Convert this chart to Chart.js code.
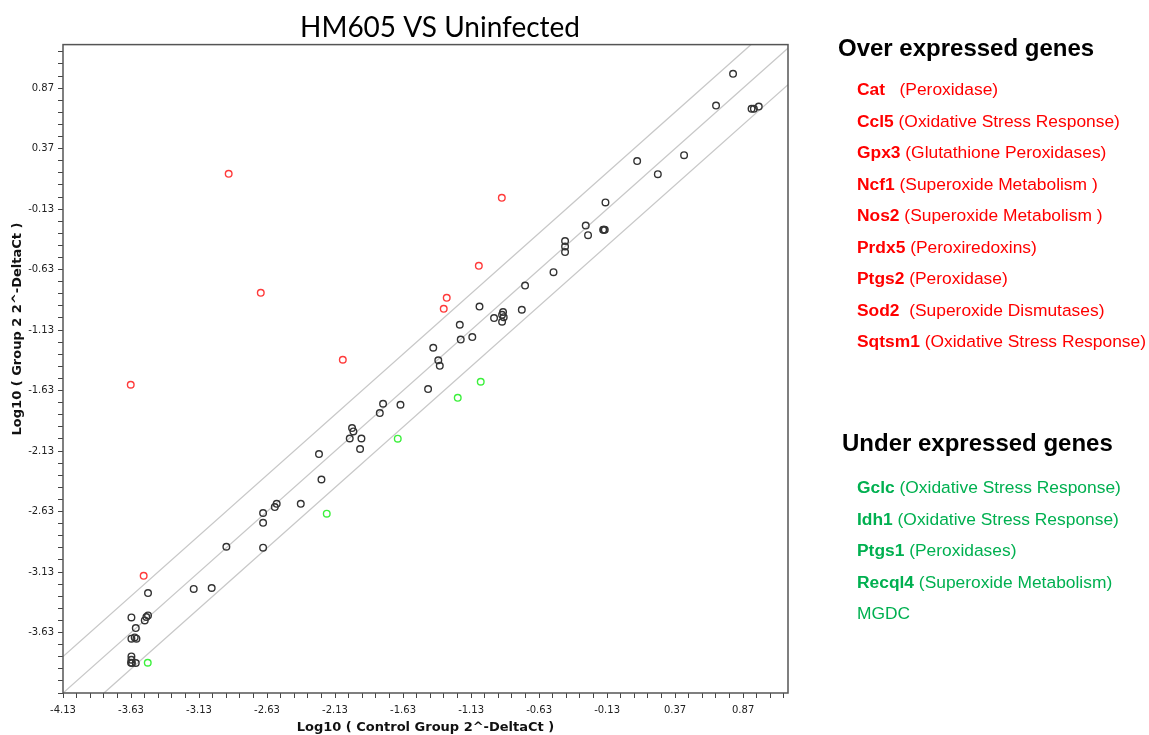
<!DOCTYPE html>
<html>
<head>
<meta charset="utf-8">
<title>HM605 VS Uninfected</title>
<script src="https://cdn.jsdelivr.net/npm/chart.js@4.4.1/dist/chart.umd.min.js"></script>
<style>
  html, body { margin: 0; padding: 0; background: #fff; }
  #wrap { position: relative; width: 1149px; height: 735px; overflow: hidden; }
  #chartBox { position: absolute; left: 0; top: 0; width: 880px; height: 735px; }
  .legend { position: absolute; font-family: "Liberation Sans", Arial, sans-serif; white-space: pre; }
  .head { font-size: 24px; font-weight: bold; line-height: 28px; color: #000; }
  .items { font-size: 17.4px; line-height: 31.5px; }
  .over { color: #ff0000; }
  .under { color: #00b050; }
</style>
</head>
<body>
<div id="wrap">
  <div id="chartBox"><canvas id="scatterChart"></canvas></div>
  <div class="legend head" style="left:838px; top:34px;">Over expressed genes</div>
  <div id="overList" class="legend items over" style="left:857px; top:74px;"></div>
  <div class="legend head" style="left:842px; top:429px;">Under expressed genes</div>
  <div id="underList" class="legend items under" style="left:857px; top:472px;"></div>
</div>
<script>
// tick labels; both axes start at -4.13 but the y axis leaves that label off
const xTickLabels = ["-4.13", "-3.63", "-3.13", "-2.63", "-2.13", "-1.63", "-1.13", "-0.63", "-0.13", "0.37", "0.87"];
const yTickLabels = ["-3.63", "-3.13", "-2.63", "-2.13", "-1.63", "-1.13", "-0.63", "-0.13", "0.37", "0.87"];

// genes with no change
const baseX = [-3.505, -3.169, -3.037, -3.627, -3.517, -3.505, -3.529, -3.595, -3.627, -3.603, -3.590,
  -3.627, -3.627, -3.623, -3.595, -3.630, -2.929, -2.659, -2.659, -2.659, -2.573, -2.559, -2.382,
  -2.230, -2.248, -2.022, -2.005, -1.995, -1.936, -1.946, -1.801, -1.777, -1.649, -1.446, -1.408,
  -1.371, -1.360, -1.213, -1.206, -1.121, -1.068, -0.961, -0.895, -0.902, -0.890, -0.902, -0.757,
  -0.733, -0.524, -0.439, -0.439, -0.439, -0.287, -0.270, -0.159, -0.147, -0.154, -0.142, 0.091,
  0.243, 0.436, 0.671, 0.796, 0.932, 0.949, 0.985];
const baseY = [-3.304, -3.270, -3.262, -3.505, -3.502, -3.489, -3.530, -3.593, -3.681, -3.671, -3.681,
  -3.828, -3.855, -3.882, -3.882, -3.880, -2.921, -2.929, -2.723, -2.642, -2.593, -2.566, -2.566,
  -2.365, -2.155, -2.026, -1.940, -1.968, -2.026, -2.113, -1.816, -1.739, -1.747, -1.618, -1.276,
  -1.380, -1.425, -1.086, -1.208, -1.188, -0.936, -1.031, -0.981, -1.004, -1.023, -1.061, -0.962,
  -0.762, -0.651, -0.394, -0.439, -0.485, -0.266, -0.345, -0.301, -0.301, -0.301, -0.075, 0.267,
  0.159, 0.316, 0.726, 0.988, 0.699, 0.699, 0.718];

// over expressed genes
const overX = [-2.912, -2.676, -2.073, -3.632, -3.537, -0.904, -1.073, -1.309, -1.331];
const overY = [0.162, -0.822, -1.375, -1.582, -3.161, -0.037, -0.599, -0.863, -0.954];

// under expressed genes
const underX = [-1.059, -1.228, -1.669, -2.191, -3.507];
const underY = [-1.557, -1.690, -2.028, -2.648, -3.880];

// fold change boundaries (y = x, y = x +/- log10(2))
const midLine = [{ x: -4.13, y: -4.13 }, { x: 1.23, y: 1.23 }];
const upperLine = [{ x: -4.13, y: -3.829 }, { x: 0.929, y: 1.23 }];
const lowerLine = [{ x: -3.829, y: -4.13 }, { x: 1.2, y: 0.899 }];

const overGenes = ["Cat", "Ccl5", "Gpx3", "Ncf1", "Nos2", "Prdx5", "Ptgs2", "Sod2", "Sqtsm1"];
const overRoles = ["   (Peroxidase)", " (Oxidative Stress Response)", " (Glutathione Peroxidases)",
  " (Superoxide Metabolism )", " (Superoxide Metabolism )", " (Peroxiredoxins)", " (Peroxidase)",
  "  (Superoxide Dismutases)", " (Oxidative Stress Response)"];
const underGenes = ["Gclc", "Idh1", "Ptgs1", "Recql4", ""];
const underRoles = [" (Oxidative Stress Response)", " (Oxidative Stress Response)", " (Peroxidases)",
  " (Superoxide Metabolism)", "MGDC"];

function fillList(id, genes, roles) {
  const box = document.getElementById(id);
  genes.forEach(function (g, i) {
    const row = document.createElement("div");
    if (g) {
      const b = document.createElement("b");
      b.textContent = g;
      row.appendChild(b);
    }
    row.appendChild(document.createTextNode(roles[i]));
    box.appendChild(row);
  });
}
fillList("overList", overGenes, overRoles);
fillList("underList", underGenes, underRoles);

function toPoints(xs, ys) {
  return xs.map(function (x, i) { return { x: x, y: ys[i] }; });
}

// minor ticks every 0.1 from the axis start, labels only on the listed ones
function buildTicks(start, max) {
  const out = [];
  for (let k = 0; ; k++) {
    const v = +(start + k * 0.1).toFixed(2);
    if (v > max + 1e-9) break;
    out.push({ value: v });
  }
  return out;
}

function labelFor(labels) {
  return function (value) {
    const hit = labels.find(function (l) { return Math.abs(parseFloat(l) - value) < 1e-6; });
    return hit || "";
  };
}

const X_MIN = -4.13, X_MAX = 1.2, Y_MIN = -4.13, Y_MAX = 1.23;
const tickFont = { family: "DejaVu Sans", size: 10 };

const framePlugin = {
  id: "frame",
  afterDraw(chart) {
    const a = chart.chartArea;
    const ctx = chart.ctx;
    ctx.save();
    ctx.strokeStyle = "#555";
    ctx.lineWidth = 1.5;
    ctx.strokeRect(a.left, a.top, a.right - a.left, a.bottom - a.top);
    // y axis title
    ctx.translate(18, 329);
    ctx.rotate(-Math.PI / 2);
    ctx.font = "bold 13px 'DejaVu Sans'";
    ctx.fillStyle = "#111";
    ctx.textAlign = "center";
    ctx.textBaseline = "middle";
    ctx.fillText("Log10 ( Group 2 2^-DeltaCt )", 0, 0);
    ctx.restore();
  }
};

const lineStyle = {
  type: "line",
  showLine: true,
  borderColor: "#c8c8c8",
  borderWidth: 1.3,
  pointRadius: 0,
  fill: false,
  clip: 0,
  order: 5
};

const pointStyle = {
  pointStyle: "circle",
  pointRadius: 3.3,
  pointHoverRadius: 3.3,
  borderWidth: 1.4,
  backgroundColor: "rgba(0,0,0,0)"
};

new Chart(document.getElementById("scatterChart"), {
  type: "scatter",
  data: {
    datasets: [
      Object.assign({ label: "y = x", data: midLine }, lineStyle),
      Object.assign({ label: "upper", data: upperLine }, lineStyle),
      Object.assign({ label: "lower", data: lowerLine }, lineStyle),
      Object.assign({ label: "No change", data: toPoints(baseX, baseY), borderColor: "#333", order: 3 }, pointStyle),
      Object.assign({ label: "Under expressed", data: toPoints(underX, underY), borderColor: "#3cf03c", order: 2 }, pointStyle),
      Object.assign({ label: "Over expressed", data: toPoints(overX, overY), borderColor: "#ff3b3b", order: 1 }, pointStyle)
    ]
  },
  options: {
    responsive: true,
    maintainAspectRatio: false,
    animation: false,
    layout: { padding: 0 },
    plugins: {
      legend: { display: false },
      tooltip: { enabled: false },
      title: {
        display: true,
        text: "HM605 VS Uninfected",
        color: "#000",
        font: { family: "Lato", size: 28, weight: "normal" },
        padding: { top: 11, bottom: 0 }
      }
    },
    scales: {
      x: {
        type: "linear",
        position: "bottom",
        min: X_MIN,
        max: X_MAX,
        afterBuildTicks: function (s) { s.ticks = buildTicks(X_MIN, X_MAX); },
        afterFit: function (s) { s.height = 42; },
        ticks: {
          autoSkip: false,
          maxRotation: 0,
          padding: 6,
          color: "#222",
          font: tickFont,
          callback: labelFor(xTickLabels)
        },
        grid: { drawOnChartArea: false, drawTicks: true, tickLength: 5, tickColor: "#444", tickWidth: 1 },
        border: { display: false },
        title: {
          display: true,
          text: "Log10 ( Control Group 2^-DeltaCt )",
          color: "#111",
          font: { family: "DejaVu Sans", size: 13, weight: "bold" },
          padding: 0
        }
      },
      y: {
        type: "linear",
        position: "left",
        min: Y_MIN,
        max: Y_MAX,
        afterBuildTicks: function (s) { s.ticks = buildTicks(Y_MIN, Y_MAX); },
        afterFit: function (s) { s.width = 63; },
        ticks: {
          autoSkip: false,
          padding: 4,
          color: "#222",
          font: tickFont,
          callback: labelFor(yTickLabels)
        },
        grid: { drawOnChartArea: false, drawTicks: true, tickLength: 5, tickColor: "#444", tickWidth: 1 },
        border: { display: false }
      },
      y2: {
        type: "linear",
        position: "right",
        display: true,
        afterFit: function (s) { s.width = 92; },
        ticks: { display: false },
        grid: { display: false, drawTicks: false },
        border: { display: false }
      }
    }
  },
  plugins: [framePlugin]
});
</script>
</body>
</html>
